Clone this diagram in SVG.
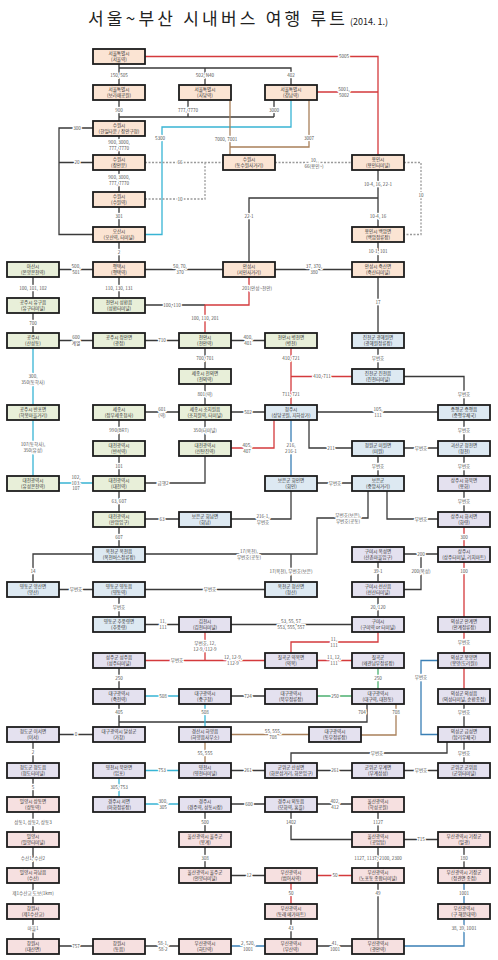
<svg xmlns="http://www.w3.org/2000/svg" width="498" height="960" viewBox="0 0 498 960">
<style>
text{font-family:"Noto Sans CJK KR","Noto Sans",sans-serif}
.ttl{font-size:17px;fill:#222}
.nd rect{stroke:#1c1c1c;stroke-width:1.8}
.o{fill:#fbe4d3}.gr{fill:#e8efd9}.bl{fill:#dde9f2}.pu{fill:#e4e1ef}.pk{fill:#f6e0e0}
.nd text{font-size:4.6px;fill:#333;text-anchor:middle}
#edges path{fill:none;stroke-width:1.3}
.k{stroke:#3a3a3a}.r{stroke:#d43a3c}.c{stroke:#38b4d4}.b{stroke:#a9805a}.u{stroke:#3a7fb5}.g{stroke:#4cb070}.d{stroke:#9a9a9a;stroke-dasharray:2 1.5}
#labels text{font-size:4.6px;fill:#555;text-anchor:middle;stroke:#fff;stroke-width:2.6px;paint-order:stroke;stroke-linejoin:round}
</style>
<rect width="498" height="960" fill="#fff"/>
<text class="ttl" x="88" y="25" textLength="257">서울~부산 시내버스 여행 루트</text>
<text x="350" y="25" font-size="9" fill="#222">(2014. 1.)</text>

<g id="edges">
<path class="k" d="M119,64V85M119,68H291V85M205,68V85M119,100V121M188,100V117M119,117H274M274,100V117M119,136V155M119,170V192M119,207V227M119,242V262M93,128H59V234.5H93M93,162.5H59M378,170V227M378,198H249V262M378,242V262M93,269.5H59M145,269.5H223M275,269.5H352M33,277V298M119,277V298M145,305H205M33,313V333M378,277V333M59,340.5H93M145,340.5H179M231,340.5H265M205,348V369M205,384V405M179,412H145M231,412H265M317,412H438M205,420V441M119,420V441M119,456V476M205,456V483H145M378,348V369M404,376.5H464V405M309,420V448H352M404,448H438M464,420V441M378,456V476M464,456V476M317,483H352M387,491V519H438M464,491V512M291,491V519H231M179,519H145M119,491V512M119,527V547M145,554H317V518H368V491M291,554V582M93,554H33V582M59,589.5H93M145,589.5H265M119,597V617M145,624.5H179M231,624.5H352M378,562V582M438,554H404M421,554V589.5H404M378,597V617M119,668V689M265,696H231M119,703V727M367,703V722H119M464,703V727M93,734.5H59M33,742V763M33,778V797M464,742V763M447,742V753H291V763M438,770.5H404M352,770.5H317M265,770.5H231M231,804H265M317,804H352M205,811V832M205,847V868M231,875.5H265M291,811V839.5H352M378,811V832M404,839.5H438M378,847V868M464,847V868M291,918V939M378,883V939M317,946H352M145,946H179M59,946H93M33,811V832M33,847V868M33,883V904M33,918V939"/>
<path class="r" d="M145,56.5H378V155M317,92H378M249,277V305H205V333M291,348V405M291,376.5H352M231,448H274V420M464,527V547M464,562V617M464,632V653M464,668V689M378,632V642H291V653M317,660.5H352M145,660.5H265M205,632V660.5M352,875.5H317M291,883V904"/>
<path class="c" d="M291,100V127H162V234.5H145M33,348V405M33,420V476M59,483H93M145,696H179M205,703V727M179,770.5H145M119,778V797M145,804H179"/>
<path class="b" d="M230,100V155M309,100V147H230M396,703V735H361M309,734.5H231M205,742V763"/>
<path class="u" d="M291,420V476M438,660.5H421V734.5H438M464,883V904M464,918V946H404M231,946H265"/>
<path class="g" d="M378,668V689M352,696H317"/>
<path class="d" d="M145,162.5H223M145,199H205V162.5M275,162.5H352M404,162.5H421V234.5H404"/>
</g>

<g id="labels">
<text x="344" y="58.2">5005</text>
<text x="344" y="90.5">5001,</text><text x="344" y="96.9">5002</text>
<text x="119" y="76.7">150, 505</text>
<text x="205" y="76.7">502, N40</text>
<text x="291" y="76.7">402</text>
<text x="119" y="111.7">900</text>
<text x="188" y="111.7">777, 7770</text>
<text x="274" y="111.7">3000</text>
<text x="160" y="139.7">5300</text>
<text x="226" y="140.7">7000, 7001</text>
<text x="309" y="139.7">3007</text>
<text x="77" y="129.7">300</text>
<text x="77" y="164.2">20</text>
<text x="119" y="143.5">900, 3000,</text><text x="119" y="149.9">777, 7770</text>
<text x="119" y="179">900, 3000,</text><text x="119" y="185.4">777, 7770</text>
<text x="180" y="164.2">66</text>
<text x="180" y="200.7">10</text>
<text x="314" y="161.5">10,</text><text x="314" y="167.9">66(용인~)</text>
<text x="421" y="196.7">10</text>
<text x="378" y="185.7">10-4, 16, 22-1</text>
<text x="378" y="217.7">10-4, 16</text>
<text x="249" y="217.7">22-1</text>
<text x="119" y="217.7">301</text>
<text x="119" y="253.7">2</text>
<text x="378" y="252.7">10-1, 101</text>
<text x="76" y="268">500,</text><text x="76" y="274.4">501</text>
<text x="180" y="268">50, 70,</text><text x="180" y="274.4">370</text>
<text x="314" y="268">37, 370,</text><text x="314" y="274.4">380</text>
<text x="33" y="289.7">100, 101, 102</text>
<text x="119" y="289.7">110, 130, 131</text>
<text x="257" y="289.7">201(안성~천안)</text>
<text x="378" y="303.7">17</text>
<text x="172" y="306.7">100, 110</text>
<text x="205" y="319.7">100, 110, 201</text>
<text x="33" y="324.7">700</text>
<text x="76" y="339">600</text><text x="76" y="345.4">계열</text>
<text x="162" y="342.2">710</text>
<text x="248" y="339">400,</text><text x="248" y="345.4">401</text>
<text x="291" y="359.7">410, 721</text>
<text x="378" y="359.7">무번호</text>
<text x="205" y="359.7">700, 701</text>
<text x="33" y="377.5">300,</text><text x="33" y="383.9">350(동학사)</text>
<text x="322" y="378.2">410, 711</text>
<text x="205" y="395.7">801(역)</text>
<text x="291" y="395.7">711, 721</text>
<text x="464" y="395.7">무번호</text>
<text x="162" y="410.5">601</text><text x="162" y="416.9">(역)</text>
<text x="248" y="413.7">502</text>
<text x="378" y="410.5">105,</text><text x="378" y="416.9">111</text>
<text x="205" y="431.7">350(터미널)</text>
<text x="119" y="431.7">990(BRT)</text>
<text x="464" y="431.7">무번호</text>
<text x="33" y="445.5">107(동학사),</text><text x="33" y="451.9">350(유성)</text>
<text x="247" y="446.5">405,</text><text x="247" y="452.9">407</text>
<text x="291" y="446.5">216,</text><text x="291" y="452.9">216-1</text>
<text x="331" y="449.7">211</text>
<text x="421" y="449.7">무번호</text>
<text x="119" y="467.7">101</text>
<text x="378" y="467.7">무번호</text>
<text x="464" y="467.7">무번호</text>
<text x="76" y="479.2">102,</text><text x="76" y="484.7">103,</text><text x="76" y="490.2">107</text>
<text x="163" y="484.7">급행2</text>
<text x="335" y="484.7">무번호</text>
<text x="119" y="502.7">63, 607</text>
<text x="464" y="502.7">무번호</text>
<text x="263" y="517.5">216-1,</text><text x="263" y="523.9">무번호</text>
<text x="348" y="516.5">무번호(보은),</text><text x="348" y="522.9">무번호(공동)</text>
<text x="421" y="520.7">무번호</text>
<text x="162" y="520.7">63</text>
<text x="119" y="538.7">607</text>
<text x="464" y="538.7">300</text>
<text x="249" y="552.5">17(옥천),</text><text x="249" y="558.9">무번호(공동)</text>
<text x="421" y="555.7">200</text>
<text x="33" y="572.7">14</text>
<text x="291" y="572.7">17(옥천), 무번호(보은)</text>
<text x="378" y="572.7">39-1</text>
<text x="421" y="572.7">200(옥성)</text>
<text x="464" y="572.7">100</text>
<text x="76" y="591.2">무번호</text>
<text x="210" y="591.2">무번호</text>
<text x="119" y="608.7">무번호</text>
<text x="378" y="608.7">20, 120</text>
<text x="163" y="623">11,</text><text x="163" y="629.4">111</text>
<text x="291" y="623">53, 55, 57</text><text x="291" y="629.4">553, 555, 557</text>
<text x="205" y="644.5">무번호, 12,</text><text x="205" y="650.9">12-9, 112-9</text>
<text x="334" y="640.5">11,</text><text x="334" y="646.9">111</text>
<text x="464" y="643.7">무번호</text>
<text x="177" y="662.2">무번호</text>
<text x="233" y="659">12, 12-9,</text><text x="233" y="665.4">112-9</text>
<text x="334" y="659">11, 12,</text><text x="334" y="665.4">111</text>
<text x="119" y="679.7">250</text>
<text x="378" y="679.7">250</text>
<text x="421" y="678.7">무번호</text>
<text x="163" y="697.7">508</text>
<text x="248" y="697.7">724</text>
<text x="335" y="697.7">250</text>
<text x="119" y="713.7">405</text>
<text x="205" y="713.7">508</text>
<text x="362" y="713.7">704</text>
<text x="396" y="713.7">708</text>
<text x="464" y="713.7">무번호</text>
<text x="76" y="736.2">0</text>
<text x="273" y="733">55, 555,</text><text x="273" y="739.4">708</text>
<text x="33" y="753.7">2</text>
<text x="205" y="754.7">55, 555</text>
<text x="377" y="754.7">무번호</text>
<text x="464" y="754.7">무번호</text>
<text x="162" y="772.2">753</text>
<text x="248" y="772.2">261</text>
<text x="335" y="772.2">261</text>
<text x="421" y="772.2">무번호</text>
<text x="33" y="788.7">5</text>
<text x="119" y="788.7">305, 753</text>
<text x="163" y="802.5">300,</text><text x="163" y="808.9">305</text>
<text x="249" y="805.7">600</text>
<text x="335" y="802.5">402,</text><text x="335" y="808.9">412</text>
<text x="33" y="823.7">상동1, 상동2, 상동3</text>
<text x="205" y="823.7">500</text>
<text x="291" y="823.7">1402</text>
<text x="378" y="823.7">1127</text>
<text x="421" y="841.2">715</text>
<text x="33" y="859.7">수산1, 수산2</text>
<text x="205" y="859.7">308</text>
<text x="378" y="859.7">1127, 1137, 2100, 2300</text>
<text x="464" y="859.7">180</text>
<text x="249" y="877.2">12</text>
<text x="335" y="877.2">50</text>
<text x="33" y="894.7">제1수산교 도보(1km)</text>
<text x="291" y="894.7">50</text>
<text x="378" y="894.7">49</text>
<text x="464" y="894.7">1001</text>
<text x="33" y="929.7">마을1</text>
<text x="291" y="929.7">43</text>
<text x="464" y="929.7">38, 39, 1001</text>
<text x="76" y="947.7">757</text>
<text x="163" y="944.5">58-1,</text><text x="163" y="950.9">58-2</text>
<text x="248" y="944.5">2, 520,</text><text x="248" y="950.9">1001</text>
<text x="335" y="944.5">41,</text><text x="335" y="950.9">1001</text>
</g>

<g id="nodes">
<g id="n01" class="nd" transform="translate(93,49)"><rect class="o" width="52" height="15"/><text x="26" y="6.3">서울특별시</text><text x="26" y="12.3">(서울역)</text></g>
<g id="n02" class="nd" transform="translate(93,85)"><rect class="o" width="52" height="15"/><text x="26" y="6.3">서울특별시</text><text x="26" y="12.3">(보라매공원)</text></g>
<g id="n03" class="nd" transform="translate(179,85)"><rect class="o" width="52" height="15"/><text x="26" y="6.3">서울특별시</text><text x="26" y="12.3">(사당역)</text></g>
<g id="n04" class="nd" transform="translate(265,85)"><rect class="o" width="52" height="15"/><text x="26" y="6.3">서울특별시</text><text x="26" y="12.3">(강남역)</text></g>
<g id="n05" class="nd" transform="translate(93,121)"><rect class="o" width="52" height="15"/><text x="26" y="6.3">수원시</text><text x="26" y="12.3">(한일타운 / 장안구청)</text></g>
<g id="n06" class="nd" transform="translate(93,155)"><rect class="o" width="52" height="15"/><text x="26" y="6.3">수원시</text><text x="26" y="12.3">(장안문)</text></g>
<g id="n07" class="nd" transform="translate(223,155)"><rect class="o" width="52" height="15"/><text x="26" y="6.3">수원시</text><text x="26" y="12.3">(동수원사거리)</text></g>
<g id="n08" class="nd" transform="translate(352,155)"><rect class="o" width="52" height="15"/><text x="26" y="6.3">용인시</text><text x="26" y="12.3">(용인터미널)</text></g>
<g id="n09" class="nd" transform="translate(93,192)"><rect class="o" width="52" height="15"/><text x="26" y="6.3">수원시</text><text x="26" y="12.3">(수원역)</text></g>
<g id="n10" class="nd" transform="translate(93,227)"><rect class="o" width="52" height="15"/><text x="26" y="6.3">오산시</text><text x="26" y="12.3">(오산역, 터미널)</text></g>
<g id="n11" class="nd" transform="translate(352,227)"><rect class="o" width="52" height="15"/><text x="26" y="6.3">용인시 백암면</text><text x="26" y="12.3">(백암정류장)</text></g>
<g id="n12" class="nd" transform="translate(7,262)"><rect class="gr" width="52" height="15"/><text x="26" y="6.3">아산시</text><text x="26" y="12.3">(온양온천역)</text></g>
<g id="n13" class="nd" transform="translate(93,262)"><rect class="o" width="52" height="15"/><text x="26" y="6.3">평택시</text><text x="26" y="12.3">(평택역)</text></g>
<g id="n14" class="nd" transform="translate(223,262)"><rect class="o" width="52" height="15"/><text x="26" y="6.3">안성시</text><text x="26" y="12.3">(서인사거리)</text></g>
<g id="n15" class="nd" transform="translate(352,262)"><rect class="o" width="52" height="15"/><text x="26" y="6.3">안성시 죽산면</text><text x="26" y="12.3">(죽산터미널)</text></g>
<g id="n16" class="nd" transform="translate(7,298)"><rect class="gr" width="52" height="15"/><text x="26" y="6.3">공주시 유구읍</text><text x="26" y="12.3">(유구터미널)</text></g>
<g id="n17" class="nd" transform="translate(93,298)"><rect class="gr" width="52" height="15"/><text x="26" y="6.3">천안시 성환읍</text><text x="26" y="12.3">(성환터미널)</text></g>
<g id="n18" class="nd" transform="translate(7,333)"><rect class="gr" width="52" height="15"/><text x="26" y="6.3">공주시</text><text x="26" y="12.3">(산성동)</text></g>
<g id="n19" class="nd" transform="translate(93,333)"><rect class="gr" width="52" height="15"/><text x="26" y="6.3">공주시 정안면</text><text x="26" y="12.3">(광정)</text></g>
<g id="n20" class="nd" transform="translate(179,333)"><rect class="gr" width="52" height="15"/><text x="26" y="6.3">천안시</text><text x="26" y="12.3">(천안역)</text></g>
<g id="n21" class="nd" transform="translate(265,333)"><rect class="gr" width="52" height="15"/><text x="26" y="6.3">천안시 병천면</text><text x="26" y="12.3">(병천)</text></g>
<g id="n22" class="nd" transform="translate(352,333)"><rect class="bl" width="52" height="15"/><text x="26" y="6.3">진천군 광혜원면</text><text x="26" y="12.3">(광혜원정류장)</text></g>
<g id="n23" class="nd" transform="translate(179,369)"><rect class="gr" width="52" height="15"/><text x="26" y="6.3">세종시 전의면</text><text x="26" y="12.3">(전의역)</text></g>
<g id="n24" class="nd" transform="translate(352,369)"><rect class="bl" width="52" height="15"/><text x="26" y="6.3">진천군 진천읍</text><text x="26" y="12.3">(진천터미널)</text></g>
<g id="n25" class="nd" transform="translate(7,405)"><rect class="gr" width="52" height="15"/><text x="26" y="6.3">공주시 반포면</text><text x="26" y="12.3">(학봉마을거리)</text></g>
<g id="n26" class="nd" transform="translate(93,405)"><rect class="gr" width="52" height="15"/><text x="26" y="6.3">세종시</text><text x="26" y="12.3">(정부세종청사)</text></g>
<g id="n27" class="nd" transform="translate(179,405)"><rect class="gr" width="52" height="15"/><text x="26" y="6.3">세종시 조치원읍</text><text x="26" y="12.3">(조치원역, 터미널)</text></g>
<g id="n28" class="nd" transform="translate(265,405)"><rect class="bl" width="52" height="15"/><text x="26" y="6.3">청주시</text><text x="26" y="12.3">(상당공원, 지하상가)</text></g>
<g id="n29" class="nd" transform="translate(438,405)"><rect class="bl" width="52" height="15"/><text x="26" y="6.3">증평군 증평읍</text><text x="26" y="12.3">(증평우체국)</text></g>
<g id="n30" class="nd" transform="translate(93,441)"><rect class="gr" width="52" height="15"/><text x="26" y="6.3">대전광역시</text><text x="26" y="12.3">(반석역)</text></g>
<g id="n31" class="nd" transform="translate(179,441)"><rect class="gr" width="52" height="15"/><text x="26" y="6.3">대전광역시</text><text x="26" y="12.3">(신탄진역)</text></g>
<g id="n32" class="nd" transform="translate(352,441)"><rect class="bl" width="52" height="15"/><text x="26" y="6.3">청원군 미원면</text><text x="26" y="12.3">(미원)</text></g>
<g id="n33" class="nd" transform="translate(438,441)"><rect class="bl" width="52" height="15"/><text x="26" y="6.3">괴산군 청천면</text><text x="26" y="12.3">(청천)</text></g>
<g id="n34" class="nd" transform="translate(7,476)"><rect class="gr" width="52" height="15"/><text x="26" y="6.3">대전광역시</text><text x="26" y="12.3">(유성온천역)</text></g>
<g id="n35" class="nd" transform="translate(93,476)"><rect class="gr" width="52" height="15"/><text x="26" y="6.3">대전광역시</text><text x="26" y="12.3">(대전역)</text></g>
<g id="n36" class="nd" transform="translate(265,476)"><rect class="bl" width="52" height="15"/><text x="26" y="6.3">보은군 회인면</text><text x="26" y="12.3">(회인)</text></g>
<g id="n37" class="nd" transform="translate(352,476)"><rect class="bl" width="52" height="15"/><text x="26" y="6.3">보은군</text><text x="26" y="12.3">(중앙사거리)</text></g>
<g id="n38" class="nd" transform="translate(438,476)"><rect class="pu" width="52" height="15"/><text x="26" y="6.3">상주시 화북면</text><text x="26" y="12.3">(용화)</text></g>
<g id="n39" class="nd" transform="translate(93,512)"><rect class="gr" width="52" height="15"/><text x="26" y="6.3">대전광역시</text><text x="26" y="12.3">(판암입구)</text></g>
<g id="n40" class="nd" transform="translate(179,512)"><rect class="bl" width="52" height="15"/><text x="26" y="6.3">보은군 회남면</text><text x="26" y="12.3">(회남)</text></g>
<g id="n41" class="nd" transform="translate(438,512)"><rect class="pu" width="52" height="15"/><text x="26" y="6.3">상주시 화서면</text><text x="26" y="12.3">(화령)</text></g>
<g id="n42" class="nd" transform="translate(93,547)"><rect class="bl" width="52" height="15"/><text x="26" y="6.3">옥천군 옥천읍</text><text x="26" y="12.3">(옥천버스정류장)</text></g>
<g id="n43" class="nd" transform="translate(352,547)"><rect class="pu" width="52" height="15"/><text x="26" y="6.3">구미시 옥성면</text><text x="26" y="12.3">(산촌마을입구)</text></g>
<g id="n44" class="nd" transform="translate(438,547)"><rect class="pu" width="52" height="15"/><text x="26" y="6.3">상주시</text><text x="26" y="12.3">(상주터미널, 리치마트)</text></g>
<g id="n45" class="nd" transform="translate(7,582)"><rect class="bl" width="52" height="15"/><text x="26" y="6.3">영동군 양산면</text><text x="26" y="12.3">(양산)</text></g>
<g id="n46" class="nd" transform="translate(93,582)"><rect class="bl" width="52" height="15"/><text x="26" y="6.3">영동군 영동읍</text><text x="26" y="12.3">(영동역)</text></g>
<g id="n47" class="nd" transform="translate(265,582)"><rect class="bl" width="52" height="15"/><text x="26" y="6.3">옥천군 청산면</text><text x="26" y="12.3">(청산)</text></g>
<g id="n48" class="nd" transform="translate(352,582)"><rect class="pu" width="52" height="15"/><text x="26" y="6.3">구미시 선산읍</text><text x="26" y="12.3">(선산터미널)</text></g>
<g id="n49" class="nd" transform="translate(93,617)"><rect class="bl" width="52" height="15"/><text x="26" y="6.3">영동군 추풍령면</text><text x="26" y="12.3">(추풍령)</text></g>
<g id="n50" class="nd" transform="translate(179,617)"><rect class="pu" width="52" height="15"/><text x="26" y="6.3">김천시</text><text x="26" y="12.3">(김천터미널)</text></g>
<g id="n51" class="nd" transform="translate(352,617)"><rect class="pu" width="52" height="15"/><text x="26" y="6.3">구미시</text><text x="26" y="12.3">(구미역 or 터미널)</text></g>
<g id="n52" class="nd" transform="translate(438,617)"><rect class="pu" width="52" height="15"/><text x="26" y="6.3">의성군 안계면</text><text x="26" y="12.3">(안계정류장)</text></g>
<g id="n53" class="nd" transform="translate(93,653)"><rect class="pu" width="52" height="15"/><text x="26" y="6.3">성주군 성주읍</text><text x="26" y="12.3">(성주터미널)</text></g>
<g id="n54" class="nd" transform="translate(265,653)"><rect class="pu" width="52" height="15"/><text x="26" y="6.3">칠곡군 약목면</text><text x="26" y="12.3">(약목)</text></g>
<g id="n55" class="nd" transform="translate(352,653)"><rect class="pu" width="52" height="15"/><text x="26" y="6.3">칠곡군</text><text x="26" y="12.3">(왜관남부정류장)</text></g>
<g id="n56" class="nd" transform="translate(438,653)"><rect class="pu" width="52" height="15"/><text x="26" y="6.3">의성군 봉양면</text><text x="26" y="12.3">(봉양(도리원))</text></g>
<g id="n57" class="nd" transform="translate(93,689)"><rect class="pu" width="52" height="15"/><text x="26" y="6.3">대구광역시</text><text x="26" y="12.3">(죽전역)</text></g>
<g id="n58" class="nd" transform="translate(179,689)"><rect class="pu" width="52" height="15"/><text x="26" y="6.3">대구광역시</text><text x="26" y="12.3">(중구청)</text></g>
<g id="n59" class="nd" transform="translate(265,689)"><rect class="pu" width="52" height="15"/><text x="26" y="6.3">대구광역시</text><text x="26" y="12.3">(북부정류장)</text></g>
<g id="n60" class="nd" transform="translate(352,689)"><rect class="pu" width="52" height="15"/><text x="26" y="6.3">대구광역시</text><text x="26" y="12.3">(대구역, 대천동)</text></g>
<g id="n61" class="nd" transform="translate(438,689)"><rect class="pu" width="52" height="15"/><text x="26" y="6.3">의성군 의성읍</text><text x="26" y="12.3">(의성터미널, 순환종점)</text></g>
<g id="n62" class="nd" transform="translate(7,727)"><rect class="pu" width="52" height="15"/><text x="26" y="6.3">청도군 이서면</text><text x="26" y="12.3">(이서)</text></g>
<g id="n63" class="nd" transform="translate(93,727)"><rect class="pu" width="52" height="15"/><text x="26" y="6.3">대구광역시 달성군</text><text x="26" y="12.3">(가창)</text></g>
<g id="n64" class="nd" transform="translate(179,727)"><rect class="pu" width="52" height="15"/><text x="26" y="6.3">경산시 하양읍</text><text x="26" y="12.3">(하양읍사무소)</text></g>
<g id="n65" class="nd" transform="translate(309,727)"><rect class="pu" width="52" height="15"/><text x="26" y="6.3">대구광역시</text><text x="26" y="12.3">(동부정류장)</text></g>
<g id="n66" class="nd" transform="translate(438,727)"><rect class="pu" width="52" height="15"/><text x="26" y="6.3">의성군 금성면</text><text x="26" y="12.3">(탑리우체국)</text></g>
<g id="n67" class="nd" transform="translate(7,763)"><rect class="pu" width="52" height="15"/><text x="26" y="6.3">청도군 청도읍</text><text x="26" y="12.3">(청도터미널)</text></g>
<g id="n68" class="nd" transform="translate(93,763)"><rect class="pu" width="52" height="15"/><text x="26" y="6.3">영천시 북안면</text><text x="26" y="12.3">(임포)</text></g>
<g id="n69" class="nd" transform="translate(179,763)"><rect class="pu" width="52" height="15"/><text x="26" y="6.3">영천시</text><text x="26" y="12.3">(영천터미널)</text></g>
<g id="n70" class="nd" transform="translate(265,763)"><rect class="pu" width="52" height="15"/><text x="26" y="6.3">군위군 산성면</text><text x="26" y="12.3">(화본삼거리, 화본입구)</text></g>
<g id="n71" class="nd" transform="translate(352,763)"><rect class="pu" width="52" height="15"/><text x="26" y="6.3">군위군 부계면</text><text x="26" y="12.3">(부계삼성)</text></g>
<g id="n72" class="nd" transform="translate(438,763)"><rect class="pu" width="52" height="15"/><text x="26" y="6.3">군위군 군위읍</text><text x="26" y="12.3">(군위터미널)</text></g>
<g id="n73" class="nd" transform="translate(7,797)"><rect class="pk" width="52" height="15"/><text x="26" y="6.3">밀양시 상동면</text><text x="26" y="12.3">(상동역)</text></g>
<g id="n74" class="nd" transform="translate(93,797)"><rect class="pu" width="52" height="15"/><text x="26" y="6.3">경주시 서면</text><text x="26" y="12.3">(아화정류장)</text></g>
<g id="n75" class="nd" transform="translate(179,797)"><rect class="pu" width="52" height="15"/><text x="26" y="6.3">경주시</text><text x="26" y="12.3">(경주역, 성동시장)</text></g>
<g id="n76" class="nd" transform="translate(265,797)"><rect class="pu" width="52" height="15"/><text x="26" y="6.3">경주시 외동읍</text><text x="26" y="12.3">(모화역, 홈플)</text></g>
<g id="n77" class="nd" transform="translate(352,797)"><rect class="pk" width="52" height="15"/><text x="26" y="6.3">울산광역시</text><text x="26" y="12.3">(학성공원)</text></g>
<g id="n78" class="nd" transform="translate(7,832)"><rect class="pk" width="52" height="15"/><text x="26" y="6.3">밀양시</text><text x="26" y="12.3">(밀양터미널)</text></g>
<g id="n79" class="nd" transform="translate(179,832)"><rect class="pk" width="52" height="15"/><text x="26" y="6.3">울산광역시 울주군</text><text x="26" y="12.3">(봉계)</text></g>
<g id="n80" class="nd" transform="translate(352,832)"><rect class="pk" width="52" height="15"/><text x="26" y="6.3">울산광역시</text><text x="26" y="12.3">(공업탑)</text></g>
<g id="n81" class="nd" transform="translate(438,832)"><rect class="pk" width="52" height="15"/><text x="26" y="6.3">부산광역시 기장군</text><text x="26" y="12.3">(일광)</text></g>
<g id="n82" class="nd" transform="translate(7,868)"><rect class="pk" width="52" height="15"/><text x="26" y="6.3">밀양시 하남읍</text><text x="26" y="12.3">(수산)</text></g>
<g id="n83" class="nd" transform="translate(179,868)"><rect class="pk" width="52" height="15"/><text x="26" y="6.3">울산광역시 울주군</text><text x="26" y="12.3">(언양터미널)</text></g>
<g id="n84" class="nd" transform="translate(265,868)"><rect class="pk" width="52" height="15"/><text x="26" y="6.3">부산광역시</text><text x="26" y="12.3">(범어사역)</text></g>
<g id="n85" class="nd" transform="translate(352,868)"><rect class="pk" width="52" height="15"/><text x="26" y="6.3">부산광역시</text><text x="26" y="12.3">(노포동 종합터미널)</text></g>
<g id="n86" class="nd" transform="translate(438,868)"><rect class="pk" width="52" height="15"/><text x="26" y="6.3">부산광역시 기장군</text><text x="26" y="12.3">(정관면 종점)</text></g>
<g id="n87" class="nd" transform="translate(7,904)"><rect class="pk" width="52" height="15"/><text x="26" y="6.3">창원시</text><text x="26" y="12.3">(제1수산교)</text></g>
<g id="n88" class="nd" transform="translate(265,904)"><rect class="pk" width="52" height="15"/><text x="26" y="6.3">부산광역시</text><text x="26" y="12.3">(동래 메가마트)</text></g>
<g id="n89" class="nd" transform="translate(438,904)"><rect class="pk" width="52" height="15"/><text x="26" y="6.3">부산광역시</text><text x="26" y="12.3">(구 해운대역)</text></g>
<g id="n90" class="nd" transform="translate(7,939)"><rect class="pk" width="52" height="15"/><text x="26" y="6.3">창원시</text><text x="26" y="12.3">(대산면)</text></g>
<g id="n91" class="nd" transform="translate(93,939)"><rect class="pk" width="52" height="15"/><text x="26" y="6.3">창원시</text><text x="26" y="12.3">(동읍)</text></g>
<g id="n92" class="nd" transform="translate(179,939)"><rect class="pk" width="52" height="15"/><text x="26" y="6.3">부산광역시</text><text x="26" y="12.3">(하단역)</text></g>
<g id="n93" class="nd" transform="translate(265,939)"><rect class="pk" width="52" height="15"/><text x="26" y="6.3">부산광역시</text><text x="26" y="12.3">(부산역)</text></g>
<g id="n94" class="nd" transform="translate(352,939)"><rect class="pk" width="52" height="15"/><text x="26" y="6.3">부산광역시</text><text x="26" y="12.3">(광안역)</text></g>
</g>
</svg>
